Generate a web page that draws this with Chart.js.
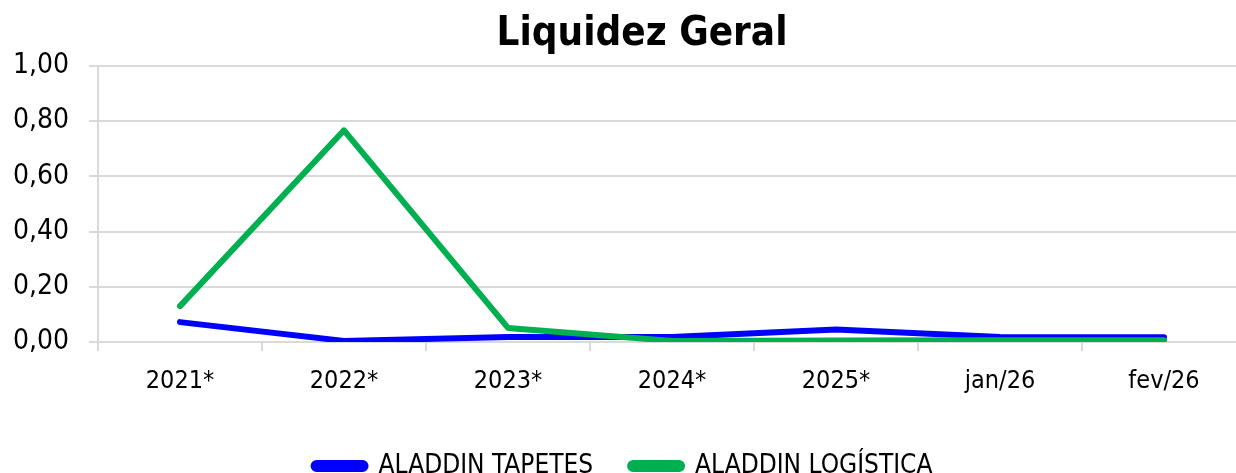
<!DOCTYPE html>
<html>
<head>
<meta charset="utf-8">
<script src="https://cdn.jsdelivr.net/npm/chart.js@4/dist/chart.umd.min.js"></script>
<style>
  html, body { margin: 0; padding: 0; overflow: hidden; background: #fff; }
  #wrap { width: 1284px; height: 489px; position: relative; }
</style>
</head>
<body>
<div id="wrap"><canvas id="liquidezChart"></canvas></div>
<script>
// ---- data ----
const categories = ["2021*", "2022*", "2023*", "2024*", "2025*", "jan/26", "fev/26"];
const tapetesValues = [0.072, 0.004, 0.018, 0.018, 0.045, 0.018, 0.017];
const logisticaValues = [0.13, 0.767, 0.051, 0.004, 0.005, 0.006, 0.006];
const yTicks = [0, 0.2, 0.4, 0.6, 0.8, 1.0];

const axisFont = "'DejaVu Sans Condensed', 'DejaVu Sans', sans-serif";
const gridColor = "#d9d9d9";

// title sits a bit right of the canvas centre in the original
const titleShift = {
  id: "titleShift",
  afterLayout(chart) {
    const t = chart.titleBlock;
    if (t) { t.left += 19; t.right += 19; }
  }
};

const ctx = document.getElementById("liquidezChart").getContext("2d");
new Chart(ctx, {
  type: "line",
  data: {
    labels: categories,
    datasets: [
      {
        label: "ALADDIN TAPETES",
        data: tapetesValues,
        borderColor: "#0000ff",
        backgroundColor: "#0000ff",
        borderWidth: 6,
        pointRadius: 0,
        borderCapStyle: "round",
        borderJoinStyle: "round",
        order: 1
      },
      {
        label: "ALADDIN LOGÍSTICA",
        data: logisticaValues,
        borderColor: "#00b050",
        backgroundColor: "#00b050",
        borderWidth: 6,
        pointRadius: 0,
        borderCapStyle: "round",
        borderJoinStyle: "round",
        order: 0
      }
    ]
  },
  plugins: [titleShift],
  options: {
    responsive: true,
    maintainAspectRatio: false,
    animation: false,
    layout: { padding: { left: 0, right: 38, top: 0, bottom: 0 } },
    plugins: {
      title: {
        display: true,
        text: "Liquidez Geral",
        color: "#000",
        font: { family: axisFont, size: 40, weight: "bold" },
        padding: { top: 11, bottom: 7 }
      },
      legend: {
        position: "bottom",
        labels: {
          color: "#000",
          font: { family: axisFont, size: 26 },
          boxWidth: 52,
          boxHeight: 6,
          padding: 37,
          useBorderRadius: true,
          borderRadius: 3,
          sort: (a, b) => a.datasetIndex - b.datasetIndex
        }
      },
      tooltip: { enabled: false }
    },
    scales: {
      x: {
        offset: true,
        grid: {
          offset: true,
          drawOnChartArea: false,
          drawTicks: true,
          tickLength: 9,
          color: gridColor,
          lineWidth: 2
        },
        border: { color: gridColor, width: 2 },
        ticks: {
          color: "#000",
          font: { family: axisFont, size: 25 },
          padding: 15,
          maxRotation: 0
        },
        afterFit: function (scale) { scale.height = 74; }
      },
      y: {
        min: 0,
        max: 1,
        grid: {
          color: gridColor,
          lineWidth: 2,
          tickLength: 9
        },
        border: { color: gridColor, width: 2 },
        afterBuildTicks: function (scale) {
          scale.ticks = yTicks.map(v => ({ value: v }));
        },
        ticks: {
          color: "#000",
          font: { family: axisFont, size: 28 },
          padding: 20,
          callback: v => Number(v).toFixed(2).replace(".", ",")
        },
        afterFit: function (scale) { scale.width = 98; }
      }
    }
  }
});
</script>
</body>
</html>
